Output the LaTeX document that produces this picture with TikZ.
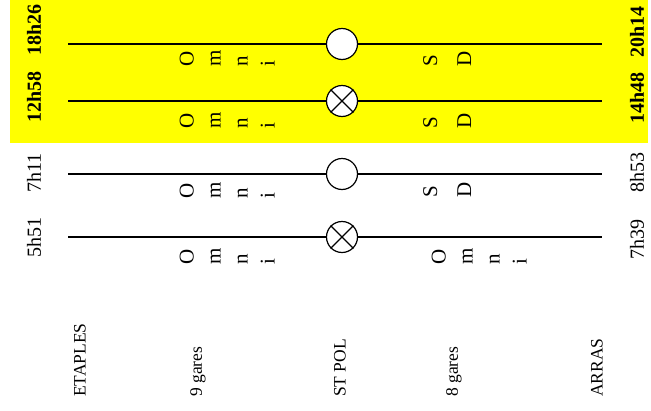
\documentclass[tikz,border=0pt]{standalone}
\usepackage{fontspec}
\setmainfont{Liberation Serif}
\definecolor{band}{RGB}{255,255,0}
\begin{document}
\begin{tikzpicture}[x=1pt,y=-1pt,
  track/.style={line width=1.8pt},
  stop/.style={circle, draw, fill=white, line width=1.2pt, minimum size=31pt, inner sep=0pt},
  hour/.style={rotate=90, inner sep=0pt, font=\fontsize{20}{24}\selectfont},
  hourb/.style={hour, font=\fontsize{20}{24}\selectfont\bfseries},
  letters/.style={rotate=90, inner sep=0pt, align=left, anchor=north west, font=\fontsize{21}{27}\selectfont},
  sdletters/.style={letters, font=\fontsize{21}{34}\selectfont},
  place/.style={rotate=90, inner sep=0pt, anchor=west, font=\fontsize{17.5}{21}\selectfont}]
\useasboundingbox (0,0) rectangle (651,410);
% highlighted band for the two upper services
\fill[band] (10,0) rectangle (648,143);

% track ends
\foreach \r/\y in {1/44, 2/101, 3/174, 4/237}{
  \coordinate (l\r) at (68,\y);
  \coordinate (r\r) at (602,\y);
}

% stop at St Pol on each service
\node[stop] (c1) at (342,44) {};
\node[stop] (c2) at (342,101) {};
\node[stop] (c3) at (342,174) {};
\node[stop] (c4) at (342,237) {};
\draw[line width=1.2pt] (c2.north east) -- (c2.south west) (c2.north west) -- (c2.south east);
\draw[line width=1.2pt] (c4.north east) -- (c4.south west) (c4.north west) -- (c4.south east);

\foreach \r in {1,2,3,4}{
  \draw[track] (l\r) -- (c\r);
  \draw[track] (c\r) -- (r\r);
}

% departure and arrival times
\node[hourb] (d1) at (34,30) {18h26};
\node[hourb] (d2) at (34,97) {12h58};
\node[hour]  (d3) at (34,173) {7h11};
\node[hour]  (d4) at (34,237) {5h51};
\node[hourb] (a1) at (637,32) {20h14};
\node[hourb] (a2) at (637,98) {14h48};
\node[hour]  (a3) at (637,172) {8h53};
\node[hour]  (a4) at (637,239) {7h39};

% service types per section
\node[letters] (o1) at (179.5,67) {O\\m\\n\\i};
\node[letters] (o2) at (179.5,129) {O\\m\\n\\i};
\node[letters] (o3) at (179.5,199) {O\\m\\n\\i};
\node[letters] (o4) at (179.5,265) {O\\m\\n\\i};
\node[letters] (o5) at (431.5,265) {O\\m\\n\\i};
\node[sdletters] (s1) at (423,67) {S\\D};
\node[sdletters] (s2) at (423,129) {S\\D};
\node[sdletters] (s3) at (423,198) {S\\D};

% stations and sections
\node[place] (p1) at (80,397) {ETAPLES};
\node[place] (p2) at (198,397) {9 gares};
\node[place] (p3) at (340,397) {ST POL};
\node[place] (p4) at (454,397) {8 gares};
\node[place] (p5) at (597,397) {ARRAS};
\end{tikzpicture}
\end{document}
